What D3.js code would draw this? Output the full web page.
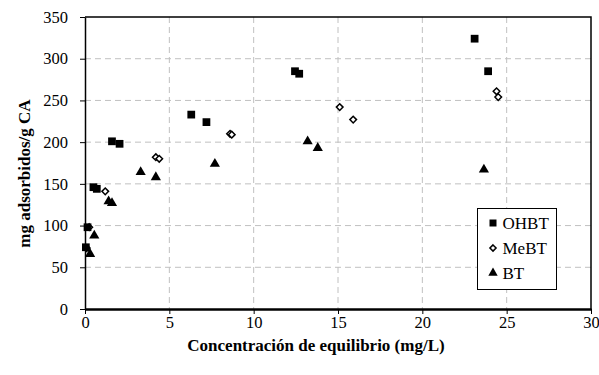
<!DOCTYPE html>
<meta charset="utf-8">
<style>
    body { margin: 0; background: #fff; }
    .grid line { stroke: #c0c0c0; stroke-width: 1px; stroke-dasharray: 6,4; }
    .axis path, .axis line { stroke: #000; }
</style>
<svg width="599" height="375"></svg>
<script src="https://cdn.jsdelivr.net/npm/d3@7"></script>
<script>
    // datos
    var ohbt = [[0.05, 74], [0.15, 98], [0.5, 146], [0.7, 144], [1.6, 201], [2.05, 198],
                [6.3, 233], [7.2, 224], [12.45, 285], [12.7, 282], [23.1, 324], [23.9, 285]];
    var mebt = [[0.1, 73], [0.25, 98], [1.2, 141], [4.2, 182], [4.4, 180], [8.6, 210],
                [8.7, 209], [15.1, 242], [15.9, 227], [24.4, 261], [24.5, 254]];
    var bt = [[0.3, 66], [0.55, 88], [1.4, 129], [1.6, 127], [3.3, 164], [4.2, 158],
              [7.7, 174], [13.2, 201], [13.8, 193], [23.65, 167]];
    var xTicks = [0, 5, 10, 15, 20, 25, 30];
    var yTicks = [0, 50, 100, 150, 200, 250, 300, 350];
    var seriesNames = ["OHBT", "MeBT", "BT"];

    (function () {
        var svg = d3.select("svg"),
            left = 85, right = 591, top = 17, bottom = 309,
            serif = "Liberation Serif, Times New Roman, serif";

        var x = d3.scaleLinear().domain([0, 30]).range([left, right]),
            y = d3.scaleLinear().domain([0, 350]).range([bottom, top]);

        // rejilla
        var grid = svg.append("g").attr("class", "grid");
        grid.selectAll(".gx").data(xTicks.slice(1, -1)).enter().append("line")
            .attr("x1", function (d) { return x(d); }).attr("x2", function (d) { return x(d); })
            .attr("y1", top).attr("y2", bottom);
        grid.selectAll(".gy").data(yTicks.slice(1, -1)).enter().append("line")
            .attr("y1", function (d) { return y(d); }).attr("y2", function (d) { return y(d); })
            .attr("x1", left).attr("x2", right);

        // marco
        svg.append("path")
            .attr("d", "M" + left + "," + top + "H" + right + "V" + bottom)
            .attr("fill", "none").attr("stroke", "#000").attr("stroke-width", 1.5);

        var xAxis = svg.append("g").attr("class", "axis")
            .attr("transform", "translate(0," + bottom + ")")
            .call(d3.axisBottom(x).tickValues(xTicks).tickSize(5).tickSizeOuter(0));
        xAxis.attr("font-family", serif).attr("font-size", 16.5);
        xAxis.select(".domain").attr("stroke", "#444").attr("stroke-width", 2.5);
        xAxis.selectAll("text").attr("y", 7);

        var yAxis = svg.append("g").attr("class", "axis")
            .attr("transform", "translate(" + left + ",0)")
            .call(d3.axisLeft(y).tickValues(yTicks).tickSize(5).tickSizeOuter(0));
        yAxis.attr("font-family", serif).attr("font-size", 16.5);
        yAxis.select(".domain").attr("stroke-width", 1.5);
        yAxis.selectAll("text").attr("x", -17);

        // simbolos
        var square = d3.symbol().type(d3.symbolSquare).size(60),
            diamond = d3.symbol().type(d3.symbolDiamond2).size(28),
            triangle = d3.symbol().type(d3.symbolTriangle).size(45);

        function draw(data, sym, fill, sw) {
            svg.append("g").selectAll("path").data(data).enter().append("path")
                .attr("transform", function (d) { return "translate(" + x(d[0]) + "," + y(d[1]) + ")"; })
                .attr("d", sym)
                .attr("fill", fill)
                .attr("stroke", "#000")
                .attr("stroke-width", sw);
        }
        draw(mebt, diamond, "#fff", 1.5);
        draw(ohbt, square, "#000", 0);
        draw(bt, triangle, "#000", 0);

        // leyenda
        var lg = svg.append("g");
        lg.append("rect").attr("x", 477.5).attr("y", 208.5).attr("width", 79).attr("height", 81)
            .attr("fill", "#fff").attr("stroke", "#000").attr("stroke-width", 1);
        var syms = [d3.symbol().type(d3.symbolSquare).size(49),
                    d3.symbol().type(d3.symbolDiamond2).size(24),
                    d3.symbol().type(d3.symbolTriangle).size(38)],
            fills = ["#000", "#fff", "#000"], sws = [0, 1.5, 0];
        seriesNames.forEach(function (n, i) {
            var cy = 223 + i * 25;
            lg.append("path").attr("transform", "translate(493," + cy + ")")
                .attr("d", syms[i]).attr("fill", fills[i]).attr("stroke", "#000").attr("stroke-width", sws[i]);
            lg.append("text").attr("x", 502.5).attr("y", cy + 5.5).attr("font-size", 17)
                .attr("font-family", serif).text(n);
        });

        // titulos de ejes
        svg.append("text").attr("x", 316).attr("y", 351)
            .attr("text-anchor", "middle").attr("font-size", 17).attr("font-weight", "bold")
            .attr("font-family", serif)
            .text("Concentración de equilibrio (mg/L)");
        svg.append("text").attr("transform", "translate(30,173.5) rotate(-90)")
            .attr("text-anchor", "middle").attr("font-size", 17).attr("font-weight", "bold")
            .attr("font-family", serif)
            .text("mg adsorbidos/g CA");
    })();
</script>
